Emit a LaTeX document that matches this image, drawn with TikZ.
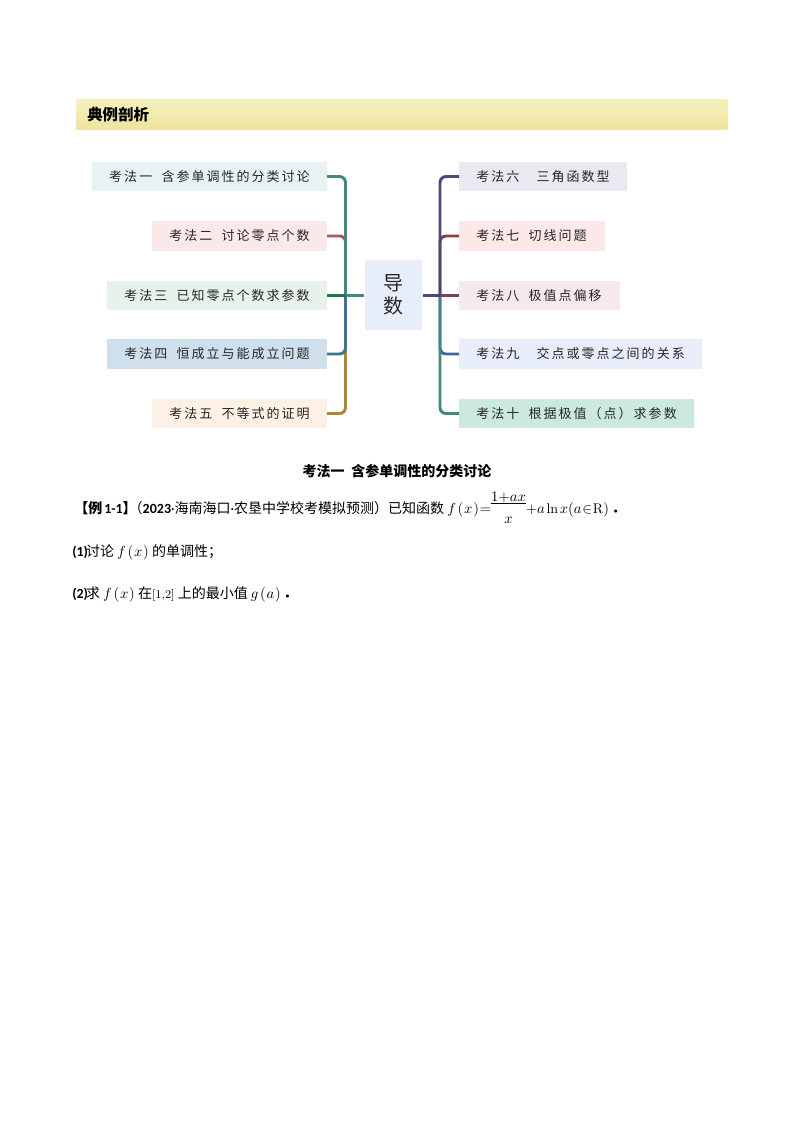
\documentclass[tikz,border=0pt]{standalone}
\usepackage{fontspec}
\newfontfamily\cjk{Noto Sans CJK SC}
\newfontfamily\cjkwide[LetterSpace=15.5]{Noto Sans CJK SC}
\newfontfamily\latinb{Carlito}
\definecolor{titletop}{HTML}{F6F0BE}
\definecolor{titlebottom}{HTML}{EEE49E}
\definecolor{fillone}{HTML}{E6F3F2}
\definecolor{filltwo}{HTML}{FBE9E9}
\definecolor{fillthree}{HTML}{E7F2EA}
\definecolor{fillfour}{HTML}{CFE0EC}
\definecolor{fillfive}{HTML}{FDF0E5}
\definecolor{fillsix}{HTML}{E9EAF1}
\definecolor{fillseven}{HTML}{FCE8E6}
\definecolor{filleight}{HTML}{F6E9EE}
\definecolor{fillnine}{HTML}{E8EDFA}
\definecolor{fillten}{HTML}{CBE8E1}
\definecolor{linkone}{HTML}{3F8A80}
\definecolor{linktwo}{HTML}{A85A60}
\definecolor{linkthree}{HTML}{1E7A45}
\definecolor{linkfour}{HTML}{3F7590}
\definecolor{linkfive}{HTML}{B08430}
\definecolor{linksix}{HTML}{46497A}
\definecolor{linkseven}{HTML}{943C3C}
\definecolor{linkeight}{HTML}{7A3F63}
\definecolor{linknine}{HTML}{3D65A0}
\definecolor{linkten}{HTML}{3F8A7C}
\def\lb#1{{\latinb\bfseries #1}}
\def\tightmath{\medmuskip=0mu \thickmuskip=1mu \thinmuskip=2mu \nulldelimiterspace=0pt}
\def\callf#1#2{#1\mkern2mu\big(\mkern1mu #2\mkern1mu\big)}
\def\lowered#1#2{\smash{\raisebox{#1}{$\displaystyle #2$}}\vphantom{1}}
\tikzset{
	kaobox/.style={minimum height=29.5*0.75pt, inner ysep=0pt, inner xsep=17*0.75pt, text=black!85,
		font=\cjkwide\fontsize{9.75}{11}\selectfont},
	leftbox/.style 2 args={kaobox, anchor=east, align=right, fill=#1, text width=(#2-34)*0.75pt},
	rightbox/.style 2 args={kaobox, anchor=west, align=left, fill=#1, text width=(#2-34)*0.75pt},
	link/.style={line width=2.2pt, rounded corners=4.5pt},
	bodytext/.style={anchor=base west, inner sep=0pt, text=black, font=\cjk\fontsize{10.5}{12.6}\selectfont\tightmath},
}
\begin{document}
\begin{tikzpicture}[x=0.75pt, y=-0.75pt]
	%%%%% START %%%%%
	
	\useasboundingbox (0, 0) rectangle (794, 1123);
	
	\node[anchor=west, minimum height=30*0.75pt, inner xsep=11*0.75pt, inner ysep=0pt,
		top color=titletop, bottom color=titlebottom, align=left, text width=629*0.75pt,
		font=\cjk\bfseries\fontsize{11.6}{13}\selectfont] (title) at (76, 115) {典例剖析};
	
	\node[leftbox={fillone}{235}] (kone) at (327, 176.5) {考法一\hspace{7pt}含参单调性的分类讨论};
	\node[leftbox={filltwo}{175}] (ktwo) at (327, 236) {考法二\hspace{7pt}讨论零点个数};
	\node[leftbox={fillthree}{220}] (kthree) at (327, 295.3) {考法三\hspace{7pt}已知零点个数求参数};
	\node[leftbox={fillfour}{220}] (kfour) at (327, 354) {考法四\hspace{7pt}恒成立与能成立问题};
	\node[leftbox={fillfive}{175}] (kfive) at (327, 413.5) {考法五\hspace{7pt}不等式的证明};
	
	\node[rightbox={fillsix}{168}] (ksix) at (459, 176.5) {考法六\hspace{13pt}三角函数型};
	\node[rightbox={fillseven}{146}] (kseven) at (459, 236) {考法七\hspace{7pt}切线问题};
	\node[rightbox={filleight}{161}] (keight) at (459, 295.3) {考法八\hspace{7pt}极值点偏移};
	\node[rightbox={fillnine}{243}] (knine) at (459, 354) {考法九\hspace{13pt}交点或零点之间的关系};
	\node[rightbox={fillten}{235}] (kten) at (459, 413.5) {考法十\hspace{7pt}根据极值（点）求参数};
	
	\node[fill=fillnine, minimum width=57.5*0.75pt, minimum height=70*0.75pt, inner sep=0pt, align=center, text=black!85,
		font=\cjk\fontsize{15}{17.25}\selectfont] (hub) at (393.5, 295.3) {导\\数};
	
	\coordinate (jleft) at (345.5, 295.3);
	\coordinate (jright) at (440, 295.3);
	
	\draw[link, linkfive] (kfive.east) -| (jleft);
	\draw[link, linkfour] (kfour.east) -| (jleft);
	\draw[link, linktwo] (ktwo.east) -| (jleft);
	\draw[link, linkone] (kone.east) -| (jleft);
	\draw[link, linkthree] (kthree.east) -- (jleft);
	\draw[link, linkone] (jleft) -- (hub.west);
	
	\draw[link, linkseven] (kseven.west) -| (jright);
	\draw[link, linksix] (ksix.west) -| (jright);
	\draw[link, linknine] (knine.west) -| (jright);
	\draw[link, linkten] (kten.west) -| (jright);
	\draw[link, linksix] (hub.east) -- (jright);
	\draw[link, linkeight] (jright) -- (keight.west);
	
	\node[anchor=base, inner sep=0pt, font=\cjk\bfseries\fontsize{10.5}{12.6}\selectfont] (head) at (397, 476.5) {考法一\hspace{5pt}含参单调性的分类讨论};
	
	\node[bodytext] (rowone) at (74, 513) {\textbf{【例}\hspace{1.5pt}\lb{1-1}\textbf{】}\hspace{-6pt}（\lb{2023}{\latinb ·}海南海口{\latinb ·}农垦中学校考模拟预测）已知函数 $\callf{f}{x}=$\raisebox{4.5pt}{$\displaystyle\frac{\lowered{-3.5pt}{1{+}ax}}{\lowered{-4.5pt}{x}}$}$+a\ln x\big(a\in\mathrm{R}\big)$\hspace{2pt}\textbf{．}};
	\node[bodytext] (rowtwo) at (72, 556.5) {\lb{(1)}\hspace{-1.5pt}讨论 $\callf{f}{x}$ 的单调性；};
	\node[bodytext] (rowthree) at (72, 598.5) {\lb{(2)}\hspace{-1.5pt}求 $\callf{f}{x}$ 在{\fontsize{9}{11}\selectfont$[1{,}2]$} 上的最小值 $\callf{g}{a}$\hspace{2pt}\textbf{．}};
	
	%%%%% END %%%%%
\end{tikzpicture}
\end{document}
